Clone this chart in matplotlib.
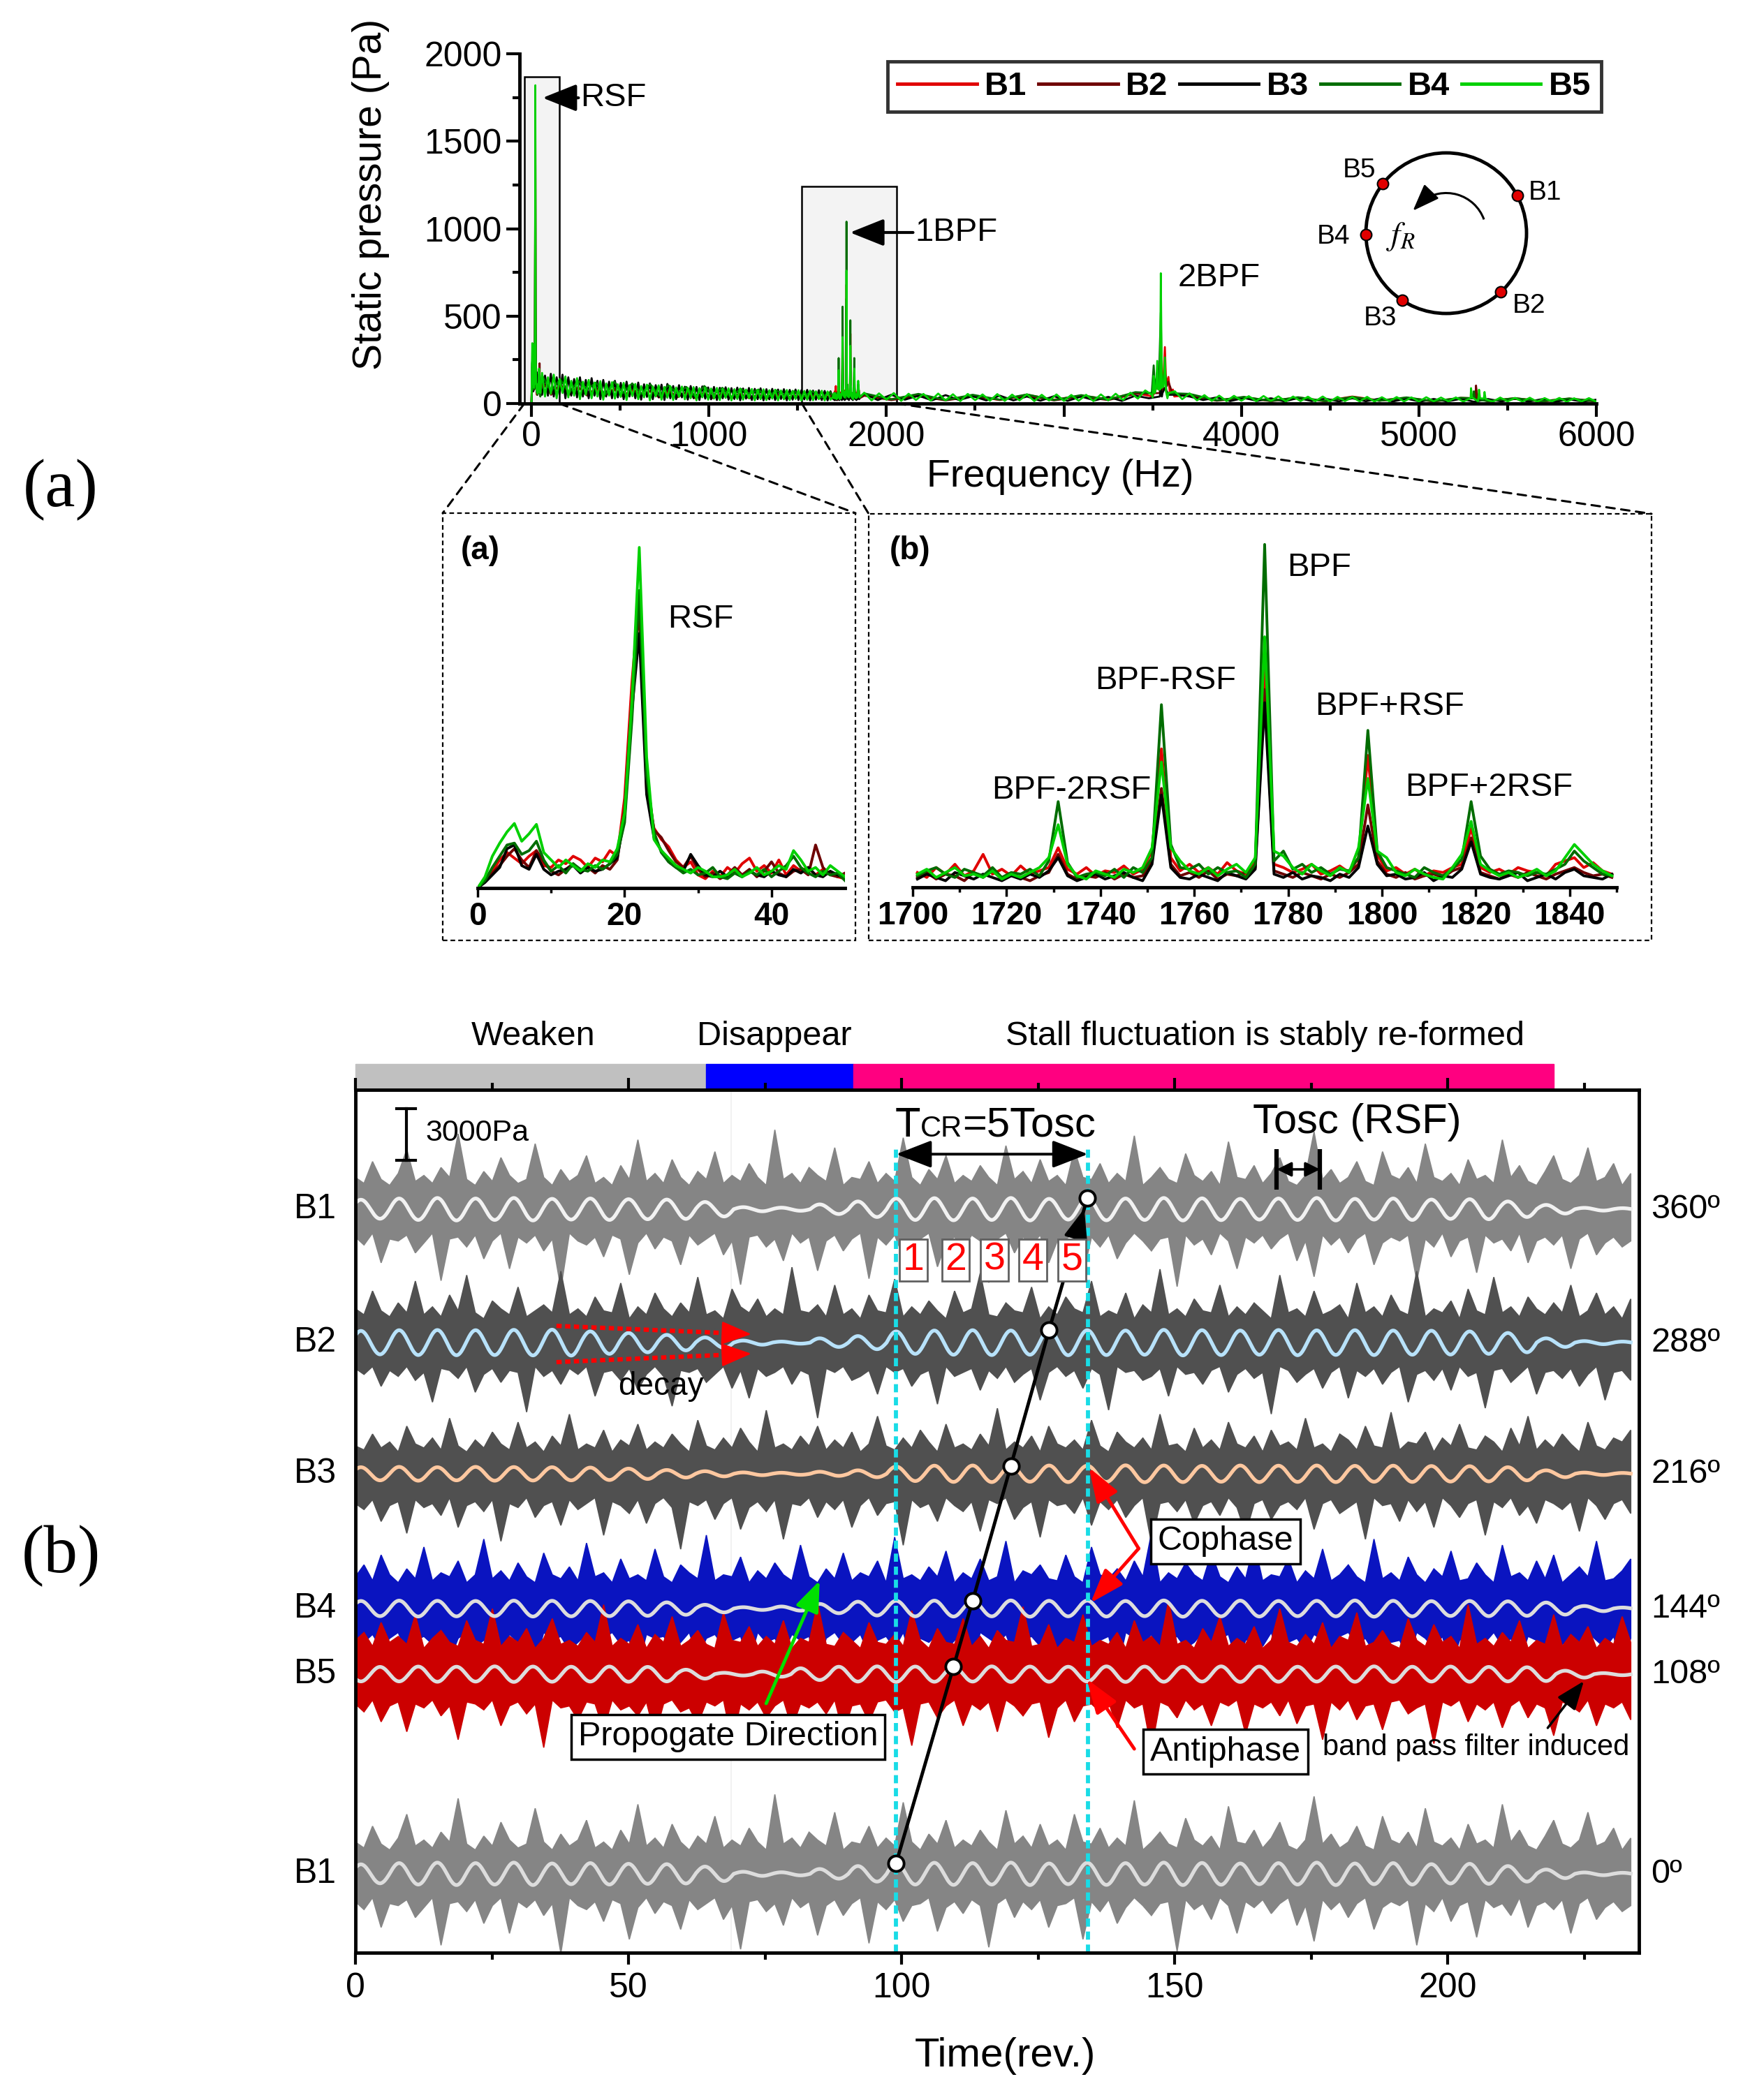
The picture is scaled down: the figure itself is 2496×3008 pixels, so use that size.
import numpy as np
import matplotlib
matplotlib.use('Agg')
import matplotlib.pyplot as plt
import matplotlib.transforms as mtrans
from matplotlib.patches import Rectangle, Circle, Arc, ConnectionPatch
from matplotlib.lines import Line2D

plt.rcParams['font.family'] = ['Liberation Sans', 'DejaVu Sans']
plt.rcParams['mathtext.fontset'] = 'stix'

# ======================= DATA =======================
SERIES = ['B1', 'B2', 'B3', 'B4', 'B5']

# --- inset (a): 0..50 Hz, 1 Hz step (Pa)
FA = np.arange(0, 51)
A_B1 = [0,50,90,150,190,160,130,170,200,120, 110,150,130,170,150,110,160,140,200,170,
        480,1100,1560,520,320,260,220,150,110,140, 70,50,90,60,110,80,130,160,90,120,
        80,150,70,120,90,110,70,100,80,60, 50]
A_B2 = [0,40,80,120,170,210,150,110,200,140, 90,70,100,130,90,110,80,120,100,150,
        420,1000,1500,600,310,270,200,140,110,170, 100,60,80,50,70,110,70,100,60,90,
        140,80,60,90,100,70,230,110,70,60, 80]
A_B3 = [0,30,70,110,210,230,120,100,180,100, 70,90,100,120,80,110,90,100,130,160,
        380,950,1360,500,270,200,140,110,90,180, 120,70,60,90,60,80,60,90,70,60,
        90,70,60,100,80,110,70,60,90,70, 50]
A_B4 = [0,40,110,170,230,240,180,200,250,150, 90,120,80,130,100,90,120,100,130,180,
        350,900,1590,600,300,190,140,110,80,100, 70,80,110,60,50,80,60,90,70,100,
        60,90,120,170,110,80,60,90,70,80, 40]
A_B5 = [0,60,170,240,300,345,250,290,340,190, 150,110,150,120,90,130,110,150,140,210,
        400,1000,1820,700,260,200,160,120,100,80, 110,90,60,60,70,100,60,80,110,70,
        90,120,100,200,150,90,110,70,120,90, 60]

# --- inset (b): 1701..1849 Hz, 2 Hz step (Pa)
FB = np.arange(1701, 1850, 2)
B_B1 = [45,30,60,40,70,35,50,100,40,55, 35,65,40,50,60,120,55,40,60,35,
        50,45,65,40,55,110,420,90,50,70, 45,60,40,75,50,40,80,680,70,60,
        45,55,70,40,50,65,45,90,400,100, 50,60,40,55,35,50,45,60,70,180,
        60,45,55,40,60,50,45,35,70,80, 90,60,75,50,40]
B_B2 = [30,45,25,40,35,20,45,30,50,25, 40,30,20,35,45,100,40,25,35,30,
        45,25,40,30,35,80,300,70,35,45, 30,50,25,40,35,45,60,600,50,40,
        30,45,35,25,40,30,45,70,250,80, 40,30,45,25,35,40,30,50,60,150,
        45,35,25,40,30,45,35,25,40,50, 60,45,35,40,30]
B_B3 = [25,40,30,20,45,35,25,40,30,20, 35,25,40,30,50,90,35,20,30,40,
        25,35,45,30,20,70,280,60,30,25, 40,30,20,45,35,25,55,560,40,30,
        45,25,35,30,20,40,30,60,186,70, 35,40,25,30,45,20,35,30,55,138,
        40,30,25,35,45,20,30,40,25,45, 55,35,30,25,40]
B_B4 = [35,50,60,40,30,55,45,35,60,30, 45,40,55,35,80,260,75,30,40,45,
        35,55,30,60,45,90,554,130,60,55, 70,40,60,45,50,30,70,1040,80,110,
        55,70,45,60,40,55,50,90,476,110, 60,50,40,30,60,45,35,55,85,260,
        95,55,40,50,45,35,45,40,55,70, 110,80,60,40,35]
B_B5 = [40,55,30,45,60,35,40,30,50,25, 40,30,45,60,90,190,70,35,25,50,
        40,30,55,45,60,120,380,120,80,50, 40,60,35,55,70,45,90,760,110,95,
        60,40,70,50,35,60,45,120,330,110, 90,45,35,55,40,30,25,60,100,200,
        70,50,35,45,30,40,55,35,50,90, 130,100,70,50,35]

# --- broadband floor 60..1685 Hz (Pa)
LOW_B1 = [120,60,100,50,90,55,80,45,85,40,75,50,70,35,65,45,60,30,55,40,55,30,50,35,45,30,50,30,45,35,40,30,45]
LOW_B2 = [130,50,110,60,95,45,90,50,80,40,85,45,70,40,75,35,65,45,60,30,60,40,55,30,50,35,55,30,45,35,50,30,40]
LOW_B3 = [50,160,45,170,40,150,55,165,30,150, 45,140,35,150,40,135,30,145,45,130,
          25,135,40,125,30,130,35,118,25,125, 40,112,30,120,22,110,38,115,25,105,
          35,108,20,112,30,100,25,105,35,96, 22,100,30,95,20,98,28,92,24,95,
          20,90,30,93,22,88,26,91,18,86, 28,89,20,84,25,87,18,82,24,84,
          20,80,26,82,18,78,22,80,20,76, 24,78,18,74,22,76,20,72,18,70]
LOW_B4 = [160,70,140,60,130,80,120,50,125,60,115,55,110,45,105,60,95,40,100,50,90,35,85,55,80,35,75,45,70,40,70,35,65]
LOW_B5 = [175,40,150,55,165,30,140,60,155,35, 130,45,145,25,125,50,135,30,120,40,
          128,22,115,45,122,28,110,38,118,20, 105,42,112,25,100,35,108,18,98,40,
          104,22,95,33,100,20,92,38,97,24, 90,30,94,18,88,35,91,22,86,28,
          89,20,84,32,87,18,82,26,85,22, 80,30,83,18,78,25,81,20,76,28,
          79,18,75,24,77,20,73,26,76,17, 72,22,74,19,70,25,73,18,69,22]

# --- broadband floor 1875..6000 Hz (Pa)
HIGH_B1 = [50,25,48,22,45,20,50,22,45,25,60,90,50,18,36,16,34,15,40,18,33,14,32,15,30,14,28,14]
HIGH_B2 = [45,20,42,18,40,22,44,18,40,20,55,80,45,16,32,14,30,13,35,16,30,12,28,13,26,12,25,12]
HIGH_B3 = [55,20,50,22,45,18,48,20,42,18, 45,18,40,16,42,15,40,18,38,15,
           45,30,60,50,40,20,35,14,32,15, 30,12,32,14,28,12,30,13,28,12,
           28,11,26,12,27,10,26,12,28,11, 25,10,24,11,22]
HIGH_B4 = [58,24,55,20,50,22,52,20,48,22,65,100,55,18,38,15,36,14,38,16,35,13,33,14,31,13,29,13]
HIGH_B5 = [62,18,58,22,60,15,56,20,55,16, 57,18,53,14,55,19,52,16,54,15,
           51,18,53,14,50,17,52,15,49,16, 50,14,52,18,56,20,62,28,75,35,
           80,30,70,25,58,18,48,15,45,14, 44,16,42,13,43,15,41,12,40,14,
           39,13,40,12,38,14,37,12,38,11, 36,13,37,12,35,11,36,13,34,12,
           35,11,34,12,33,10,34,12,32,11, 33,10,31,12,32,10,30,11,31,10]

# --- narrow peaks around 2BPF and 5300 Hz (Hz, Pa)
PK_F_B1 = [3500,3526,3546,3558,3569,3576,3589,3596,3614,3622,5318,5322,5330]
PK_V_B1 = [40,100,200,90,323,110,152,70,80,40,30,90,30]
PK_F_B2 = [3540,3546,3552,3569,3580,3589,3600,3610,5318,5322,5328]
PK_V_B2 = [60,150,70,180,100,125,92,60,30,103,30]
PK_F_B3 = [3540,3546,3552,3569,3590]
PK_V_B3 = [40,80,40,90,50]
PK_F_B4 = [3495,3506,3514,3526,3534,3546,3552,3569,3578,5306,5310,5316]
PK_V_B4 = [60,218,70,180,80,520,90,200,60,30,70,25]
PK_F_B5 = [3495,3506,3512,3520,3526,3532,3540,3546,3552,3562,3569,3575,3590,
           5290,5294,5300,5335,5339,5345,5366,5370,5376]
PK_V_B5 = [50,158,60,90,244,80,110,745,90,100,264,70,60,
           30,88,35,30,79,30,28,66,25]

SENSOR_ANGLES = [28, -47, -123, 181, 142]   # degrees, B1..B5 on the casing

# --- time signals: raw-signal envelope (x115 Pa above / below the mean)
NOISE_UNIT = 115.0
B1_UP = [16,13,24,15,12,18,30,14,17,13,21,16,38,15,12,19,14,26,17,13,
         15,33,16,12,20,14,17,27,13,16,12,22,15,35,14,18,13,25,16,12,
         19,15,29,13,17,14,23,16,12,40,15,18,13,21,17,14,31,12,16,15,
         24,13,18,14,36,16,12,20,15,27,13,17,14,22,16,12,32,15,19,13,
         25,14,17,12,30,16,15,23,13,18,14,37,12,16,21,15,13,28,17,14,
         19,12,34,16,15,22,13,18,26,14,12,17,39,15,20,13,16,24,14,12,
         29,17,15,21,13,33,16,14,18,12,25,15,17,13,35,16,22,14,12,19,
         27,15,13,17,31,14,16,23,12,18]
B1_LO = [14,18,12,27,15,16,13,22,17,12,36,15,14,19,13,25,16,12,30,14,
         17,13,21,15,40,12,16,18,14,24,13,15,33,17,12,20,14,16,28,13,
         18,15,12,23,16,38,14,13,19,15,26,12,17,14,31,16,13,21,15,12,
         35,14,18,13,24,16,15,12,29,17,14,20,13,16,37,15,12,22,14,18,
         13,27,16,15,12,33,14,19,13,25,17,12,16,21,15,14,39,13,18,15,
         23,12,16,30,14,17,13,20,15,12,26,16,34,13,18,14,22,15,12,28,
         17,14,16,13,36,15,19,12,24,16,14,32,13,17,15,21,12,27,16,14,
         18,13,30,15,12,23,17,14,19,16]
B2_UP = [17,14,26,16,13,20,15,31,14,18,13,24,16,34,15,12,21,17,14,28,
         13,16,19,15,36,14,17,13,23,16,15,30,12,18,14,25,17,13,20,15,
         33,14,16,12,27,18,15,22,13,17,14,38,16,15,19,13,29,14,17,12,
         24,16,15,32,13,18,14,21,16,12,26,15,17,35,14,13,20,16,15,28,
         12,18,14,23,17,15,31,13,16,14,25,12,19,15,37,14,17,13,22,16,
         15,29,13,18,14,20,16,12,34,15,17,13,26,14,16,19,12,30,15,18,
         13,24,16,14,36,13,17,15,21,12,27,16,14,33,15,18,13,23,17,14,
         20,15,29,13,16,25,14,18,12,22]
B2_LO = [13,16,12,22,14,17,12,19,15,30,13,14,18,12,25,16,13,20,14,15,
         35,12,17,14,21,13,16,12,27,15,14,19,13,24,16,12,17,32,14,15,
         13,20,16,12,23,14,28,13,17,15,12,21,14,16,38,13,15,12,19,17,
         14,26,12,15,13,22,16,14,31,12,17,15,13,24,14,18,12,20,16,13,
         29,15,12,17,14,23,13,16,34,12,15,14,19,17,13,27,12,16,15,21,
         14,12,25,16,13,18,15,36,12,14,20,16,13,23,15,12,28,14,17,13,
         21,15,12,30,16,14,19,13,24,12,17,15,33,14,13,20,16,12,26,15,
         14,18,13,22,16,12,29,15,14,19]
B3_UP = [14,12,20,13,16,11,24,15,13,18,12,28,14,11,17,13,21,15,12,26,
         13,16,11,19,14,30,12,15,13,22,11,17,14,25,12,16,13,20,15,11,
         27,14,12,18,13,23,16,11,32,13,15,12,19,14,24,12,17,13,21,11,
         15,29,14,12,18,13,22,16,11,25,13,15,12,20,14,33,12,16,13,19,
         11,24,15,13,17,12,27,14,11,21,16,13,18,12,30,14,15,11,23,13,
         17,12,26,15,13,19,11,22,14,16,12,28,13,15,11,20,17,12,24,14,
         13,31,12,16,15,21,11,18,14,25,13,12,19,16,11,23,14,29,12,17,
         13,20,15,11,26,14,12,18,16,22]
B3_LO = [15,18,13,24,16,14,30,13,17,15,21,12,27,16,14,19,13,34,15,17,
         12,22,16,14,26,13,18,15,12,31,14,16,20,13,25,15,12,17,38,14,
         16,13,23,15,12,28,17,14,19,13,33,15,16,12,22,14,18,13,27,16,
         12,21,15,14,36,13,17,15,24,12,16,19,14,29,13,15,12,23,17,14,
         32,13,16,15,20,12,26,14,18,13,22,16,12,35,15,14,19,13,25,16,
         14,21,12,17,30,15,13,23,16,14,18,12,28,15,13,20,17,14,33,12,
         16,15,24,13,19,14,27,12,16,22,15,13,31,14,17,12,21,16,25,13,
         15,18,14,29,12,16,23,15,13,20]
B4_UP = [16,22,14,27,17,13,20,15,31,14,18,16,24,13,17,35,15,19,14,23,
         16,13,28,17,15,21,14,33,16,18,13,25,15,17,14,30,16,13,22,18,
         15,37,14,17,16,26,13,19,15,23,17,14,32,16,13,20,15,28,14,18,
         16,24,13,36,15,17,14,21,16,29,13,18,15,25,14,16,34,13,19,17,
         22,15,14,27,16,13,31,17,15,20,14,24,16,38,13,18,15,23,17,14,
         28,16,13,21,15,33,14,17,16,25,13,19,15,30,14,17,22,16,13,35,
         15,18,14,26,17,13,20,16,29,14,15,23,17,13,32,16,18,14,24,15,
         27,13,17,21,16,34,14,15,19,25]
B4_LO = [14,17,13,20,15,12,23,16,14,18,13,26,15,12,19,16,14,22,13,17,
         15,28,12,16,14,21,17,13,24,15,12,18,16,30,13,15,14,20,17,12,
         25,15,13,19,16,14,27,12,17,15,22,13,16,14,32,15,12,18,17,13,
         23,16,14,20,12,26,15,17,13,21,16,14,29,12,15,18,13,24,16,14,
         19,12,27,15,17,13,22,16,14,31,12,15,18,13,25,16,14,20,17,12,
         23,15,13,28,16,14,19,12,26,17,15,21,13,16,34,14,12,18,15,22,
         13,17,16,25,12,15,20,14,29,16,13,23,17,12,19,15,27,14,16,21,
         13,18,15,24,12,16,20,14,30,15]
B5_UP = [17,21,14,26,16,19,15,30,13,18,22,16,14,27,17,15,33,14,19,16,
         23,13,18,28,15,17,14,21,16,35,14,18,15,25,13,20,16,29,14,17,
         22,15,13,31,17,16,24,14,19,15,27,13,18,16,36,15,14,21,17,13,
         26,16,15,20,14,32,17,13,23,16,15,28,14,19,13,22,17,16,34,14,
         15,25,13,18,16,30,14,17,15,21,13,27,16,19,14,37,15,17,13,23,
         16,29,14,18,15,24,13,17,33,16,14,20,15,26,13,19,17,31,14,16,
         22,15,13,28,17,14,25,16,19,13,35,15,18,14,21,16,27,13,17,15,
         30,14,20,16,24,13,18,15,29,16]
B5_LO = [15,19,13,24,16,14,29,15,17,13,21,16,33,14,15,18,13,26,16,14,
         20,15,37,13,17,16,23,14,15,28,13,18,16,21,14,31,15,13,19,17,
         25,14,16,13,34,15,18,14,22,16,13,27,15,17,14,20,13,30,16,15,
         24,14,13,19,17,36,15,14,22,16,13,26,15,18,14,29,13,16,21,15,
         14,32,17,13,24,16,15,19,14,27,13,17,15,38,14,16,22,13,18,15,
         26,14,16,13,30,15,17,14,21,13,25,16,15,33,14,18,13,23,16,15,
         28,14,13,20,17,15,35,14,16,13,24,15,18,14,27,16,13,22,15,17,
         31,14,16,19,13,26,15,17,14,23]

# --- band-pass (RSF) filtered signal: amplitude of every oscillation cycle (Pa)
TOSC = 7.0                      # rev
FILT_T0 = [1.0, 1.0, 1.0, 1.0, 4.5]   # rev of a crest, B1..B5
AMP_B1 = [550,620,650,620,650,600,620,580,560,420,120,90,280,450,620,640,620,650,600,640,620,650,630,600,620,650,600,620,560,580,450,250,80,60]
AMP_B2 = [680,720,730,720,740,750,650,560,450,300,120,60,250,380,650,700,720,700,730,720,700,740,720,700,730,710,720,700,690,650,560,250,90,60]
AMP_B3 = [380,400,380,400,390,380,360,300,220,150,80,60,120,200,420,470,480,460,480,470,490,480,460,480,470,480,460,470,450,440,380,200,70,50]
AMP_B4 = [440,460,450,440,460,450,440,420,360,220,80,120,270,400,450,460,450,470,450,460,440,470,450,460,440,450,470,450,430,440,420,350,150,60]
AMP_B5 = [420,440,430,450,440,430,440,420,260,80,150,340,430,450,440,430,450,440,430,450,440,430,450,440,430,440,450,430,440,420,400,200,60,50]

CREST_T = [99, 109.5, 113, 120, 127, 134]    # crests joined by the propagation line
TCR = (99.0, 134.1)
TOSC_MARK = (168.7, 176.6)

STAGE_EDGES = [0, 64.2, 91.2, 219.4]
STAGE_LABELS = ['Weaken', 'Disappear', 'Stall fluctuation is stably re-formed']
STAGE_LABEL_X = [32.5, 76.7, 166.5]

TRACE_LABELS = ['B1', 'B2', 'B3', 'B4', 'B5', 'B1']
ANGLE_LABELS = ['360º', '288º', '216º', '144º', '108º', '0º']

# ======================= FIGURE =======================
W, H = 2496, 3008
fig = plt.figure(figsize=(W / 100, H / 100), dpi=100)


def box(x0, y0, x1, y1):
    return [x0 / W, 1 - y1 / H, (x1 - x0) / W, (y1 - y0) / H]


def fp(x, y):
    return (x / W, 1 - y / H)


SPEC_COLORS = ['#E00000', '#6E0000', '#000000', '#006C00', '#00D000']
A_LIST = [A_B1, A_B2, A_B3, A_B4, A_B5]
B_LIST = [B_B1, B_B2, B_B3, B_B4, B_B5]
LOW_LIST = [LOW_B1, LOW_B2, LOW_B3, LOW_B4, LOW_B5]
HIGH_LIST = [HIGH_B1, HIGH_B2, HIGH_B3, HIGH_B4, HIGH_B5]
PKF_LIST = [PK_F_B1, PK_F_B2, PK_F_B3, PK_F_B4, PK_F_B5]
PKV_LIST = [PK_V_B1, PK_V_B2, PK_V_B3, PK_V_B4, PK_V_B5]

# ---------------- top spectrum ----------------
ax = fig.add_axes(box(744, 77, 2286, 578))
for i in range(5):
    f = np.concatenate([FA, np.linspace(60, 1685, len(LOW_LIST[i])), FB,
                        np.linspace(1875, 6000, len(HIGH_LIST[i])), PKF_LIST[i]])
    v = np.concatenate([A_LIST[i], LOW_LIST[i], B_LIST[i], HIGH_LIST[i], PKV_LIST[i]])
    o = np.argsort(f, kind='stable')
    ax.plot(f[o], v[o], color=SPEC_COLORS[i], lw=2.0, zorder=3 + i)
ax.add_patch(Rectangle((-40, 0), 197, 1870, fc='#F3F3F3', ec='k', lw=1.8, zorder=1))
ax.add_patch(Rectangle((1524, 0), 535, 1240, fc='#F3F3F3', ec='k', lw=1.8, zorder=1))
ax.set_xlim(-67, 6000)
ax.set_ylim(0, 2000)
for s in ['top', 'right']:
    ax.spines[s].set_visible(False)
for s in ['left', 'bottom']:
    ax.spines[s].set_linewidth(3.5)
    ax.spines[s].set_zorder(12)
ax.set_xticks([0, 1000, 2000, 3000, 4000, 5000, 6000])
ax.set_xticklabels(['0', '1000', '2000', '', '4000', '5000', '6000'])
ax.set_xticks(np.arange(500, 6000, 1000), minor=True)
ax.set_yticks([0, 500, 1000, 1500, 2000])
ax.set_yticks([250, 750, 1250, 1750], minor=True)
ax.tick_params(which='major', length=14, width=3, labelsize=36, direction='out', pad=4)
ax.tick_params(which='minor', length=7, width=3, direction='out')

arrow_kw = dict(arrowstyle='-|>,head_length=0.75,head_width=0.3', color='k', lw=3,
                mutation_scale=40, shrinkA=0, shrinkB=0, relpos=(0, 0.5))
ax.annotate('RSF', xy=(63, 1748), xytext=(276, 1748), fontsize=34, va='center', ha='left',
            arrowprops=arrow_kw, zorder=10)
ax.annotate('1BPF', xy=(1795, 978), xytext=(2161, 978), fontsize=34, va='center', ha='left',
            arrowprops=arrow_kw, zorder=10)
ax.text(3642, 718, '2BPF', fontsize=34, va='center', ha='left')

handles = [Line2D([], [], color=c, lw=3.5) for c in SPEC_COLORS]
leg = ax.legend(handles, SERIES, ncol=5, loc='upper left', bbox_to_anchor=fp(1271, 88),
                bbox_transform=fig.transFigure, frameon=True, fancybox=False, edgecolor='k',
                borderpad=0.3, handlelength=2.4, handletextpad=0.25, columnspacing=0.35,
                borderaxespad=0, prop={'weight': 'bold', 'size': 34})
leg.get_frame().set_linewidth(3.5)

fig.text(*fp(531, 278), 'Static pressure (Pa)', rotation=90, fontsize=41, ha='center', va='center')
fig.text(*fp(1518, 683), 'Frequency (Hz)', fontsize=40, ha='center', va='center')

# circle sketch of sensor positions
axc = fig.add_axes(box(2071 - 170, 334 - 170, 2071 + 170, 334 + 170))
axc.set_xlim(-1.478, 1.478)
axc.set_ylim(-1.478, 1.478)
axc.axis('off')
axc.add_patch(Circle((0, 0), 1.0, fill=False, ec='k', lw=3.5))
ang = np.deg2rad(SENSOR_ANGLES)
axc.scatter(np.cos(ang), np.sin(ang), s=130, c='#E00000', edgecolors='k', linewidths=1.5, zorder=5)
lab_pos = {'B1': (1.23, 0.50), 'B2': (1.03, -0.90), 'B3': (-0.82, -1.06), 'B4': (-1.40, -0.04), 'B5': (-1.08, 0.78)}
for n in SERIES:
    axc.text(*lab_pos[n], n, fontsize=28, ha='center', va='center')
axc.add_patch(Arc((0, 0), 1.0, 1.0, theta1=20, theta2=128, color='k', lw=2.2))
axc.annotate('', xy=(0.5 * np.cos(np.deg2rad(146)), 0.5 * np.sin(np.deg2rad(146))),
             xytext=(0.5 * np.cos(np.deg2rad(126)), 0.5 * np.sin(np.deg2rad(126))),
             arrowprops=dict(arrowstyle='-|>,head_length=0.8,head_width=0.3', color='k', lw=2,
                             mutation_scale=30, shrinkA=0, shrinkB=0))
axc.text(-0.57, -0.04, '$f_R$', fontsize=34, ha='center', va='center')

# ---------------- insets ----------------
axa = fig.add_axes(box(684, 768, 1210, 1272))
for i in range(5):
    axa.plot(FA, A_LIST[i], color=SPEC_COLORS[i], lw=2.8, zorder=3 + i)
axa.set_xlim(0, 50)
axa.set_ylim(0, 1880)
axb = fig.add_axes(box(1307, 760, 2315, 1271))
for i in range(5):
    axb.plot(FB, B_LIST[i], color=SPEC_COLORS[i], lw=2.8, zorder=3 + i)
axb.set_xlim(1700, 1850)
axb.set_ylim(0, 1082)
for a in (axa, axb):
    for s in ['top', 'right', 'left']:
        a.spines[s].set_visible(False)
    a.spines['bottom'].set_linewidth(3.5)
    a.spines['bottom'].set_zorder(12)
    a.set_yticks([])
    a.patch.set_alpha(0)
    a.tick_params(which='major', length=9, width=2.5, labelsize=33, direction='out', pad=5)
    a.tick_params(which='minor', length=5, width=2.5, direction='out')
axa.set_xticks([0, 20, 40])
axa.set_xticks([10, 30], minor=True)
axb.set_xticks(np.arange(1700, 1841, 20))
axb.set_xticks(np.arange(1710, 1851, 20), minor=True)
for a in (axa, axb):
    for t in a.get_xticklabels():
        t.set_fontweight('bold')
axa.text(25.9, 1436, 'RSF', fontsize=34, ha='left', va='center')
for txt, xx, yy in [('BPF', 1779.8, 969), ('BPF-RSF', 1738.8, 627), ('BPF+RSF', 1785.7, 549),
                    ('BPF-2RSF', 1716.9, 295), ('BPF+2RSF', 1805.0, 303)]:
    axb.text(xx, yy, txt, fontsize=34, ha='left', va='center')
fig.text(*fp(688, 789), '(a)', fontsize=33, fontweight='bold', ha='center', va='center')
fig.text(*fp(1303, 789), '(b)', fontsize=33, fontweight='bold', ha='center', va='center')

dash = (0, (3, 2))
fig.add_artist(Rectangle(fp(634, 1347), 591 / W, 612 / H, transform=fig.transFigure,
                         fill=False, ls=dash, lw=1.6, ec='k'))
fig.add_artist(Rectangle(fp(1244, 1347), 1121 / W, 611 / H, transform=fig.transFigure,
                         fill=False, ls=dash, lw=1.6, ec='k'))
for xa, pb in [(-40, fp(634, 735)), (157, fp(1225, 735)), (1524, fp(1244, 736)), (2059, fp(2365, 736))]:
    fig.add_artist(ConnectionPatch(xyA=(xa, 0), coordsA=ax.transData, xyB=pb,
                                   coordsB=fig.transFigure, ls=(0, (4, 3)), lw=2.2, color='k'))

fig.text(*fp(87, 702), '(a)', fontsize=70, family='Liberation Serif', ha='center', va='center')
fig.text(*fp(87, 2229), '(b)', fontsize=70, family='Liberation Serif', ha='center', va='center')

# ---------------- time signals ----------------
axt = fig.add_axes(box(509, 1561, 2347, 2797))
axt.set_xlim(0, 235)
axt.set_ylim(0, 50000)
BASE = [43080, 35350, 27750, 19940, 16140, 4570]
NOISE_UP = [B1_UP, B2_UP, B3_UP, B4_UP, B5_UP, B1_UP]
NOISE_LO = [B1_LO, B2_LO, B3_LO, B4_LO, B5_LO, B1_LO]
NOISE_COL = ['#858585', '#505050', '#505050', '#0A14C0', '#CC0000', '#858585']
FILT_COL = ['#F2F2F2', '#B8E2FA', '#FFC8A0', '#DDDDDD', '#DDDDDD', '#DDDDDD']
AMPS = [AMP_B1, AMP_B2, AMP_B3, AMP_B4, AMP_B5, AMP_B1]
T0S = FILT_T0 + [FILT_T0[0]]
T_END = 233.5

axt.axvline(68.8, color='#F2F2F2', lw=1.5, zorder=0.5)
for j in range(6):
    up = np.asarray(NOISE_UP[j], dtype=float) * NOISE_UNIT
    lo = np.asarray(NOISE_LO[j], dtype=float) * NOISE_UNIT
    xu = np.linspace(0, T_END, len(up))
    xl = np.linspace(0, T_END, len(lo))
    X = np.concatenate([xu, xl[::-1]])
    Y = np.concatenate([BASE[j] + up, BASE[j] - lo[::-1]])
    axt.fill(X, Y, fc=NOISE_COL[j], ec=NOISE_COL[j], lw=1.2, joinstyle='miter', zorder=2 + 0.1 * j)


def filtered(tt, j):
    amps = np.array(AMPS[j], dtype=float)
    k = np.clip(np.floor((tt - T0S[j] + TOSC / 4) / TOSC).astype(int), 0, len(amps) - 1)
    return BASE[j] + amps[k] * np.cos(2 * np.pi * (tt - T0S[j]) / TOSC)


tt = np.linspace(0, T_END, 4000)
for j in range(6):
    axt.plot(tt, filtered(tt, j), color=FILT_COL[j], lw=3.8, zorder=4)

# stage bar above the frame
bt = mtrans.blended_transform_factory(axt.transData, axt.transAxes)
for k, c in enumerate(['#C0C0C0', '#0000FF', '#FF0080']):
    axt.add_patch(Rectangle((STAGE_EDGES[k], 1.0), STAGE_EDGES[k + 1] - STAGE_EDGES[k], 0.03,
                            transform=bt, color=c, clip_on=False, zorder=1))
    axt.text(STAGE_LABEL_X[k], 1.062, STAGE_LABELS[k], transform=bt, fontsize=35,
             ha='center', va='center')

# side labels
for j in range(6):
    axt.text(-7.4, BASE[j], TRACE_LABELS[j], fontsize=36, ha='center', va='center')
    axt.text(237.2, BASE[j], ANGLE_LABELS[j], fontsize=35, ha='left', va='center')

# scale bar
axt.plot([9.3, 9.3], [45900, 48900], color='k', lw=3, zorder=9)
axt.plot([7.6, 11.0], [45900, 45900], color='k', lw=3, zorder=9)
axt.plot([7.6, 11.0], [48900, 48900], color='k', lw=3, zorder=9)
axt.text(12.8, 47500, '3000Pa', fontsize=31, ha='left', va='center')

# TCR / Tosc markers
axt.vlines(TCR, 0, 46700, colors='#19DCE6', lw=4.2, linestyles=[(0, (2, 1.2))], zorder=7)
axt.annotate('', xy=(TCR[1], 46270), xytext=(TCR[0], 46270),
             arrowprops=dict(arrowstyle='<|-|>,head_length=0.9,head_width=0.35', color='k', lw=2.8,
                             mutation_scale=35, shrinkA=0, shrinkB=0), zorder=9)
r = fig.canvas.get_renderer()
xd, yd = axt.transData.transform((98.8, 47300))
for s, size in [('T', 43), ('CR', 30), ('=5Tosc', 43)]:
    tx = axt.text(xd, yd, s, fontsize=size, transform=mtrans.IdentityTransform(), va='baseline', ha='left')
    xd += tx.get_window_extent(renderer=r).width
axt.text(164.3, 48100, 'Tosc (RSF)', fontsize=43, ha='left', va='center')
axt.vlines(TOSC_MARK, 44220, 46560, colors='k', lw=4.5, zorder=9)
axt.annotate('', xy=(TOSC_MARK[1], 45390), xytext=(TOSC_MARK[0], 45390),
             arrowprops=dict(arrowstyle='<|-|>,head_length=0.5,head_width=0.25', color='k', lw=2.5,
                             mutation_scale=25, shrinkA=0, shrinkB=0), zorder=9)

# propagation line through the crests
order = [5, 4, 3, 2, 1, 0]
cy = [filtered(np.array([CREST_T[n]]), order[n])[0] for n in range(6)]
axt.plot(CREST_T, cy, color='k', lw=3.5, zorder=8)
p0 = np.array([CREST_T[4], cy[4]])
p1 = np.array([CREST_T[5], cy[5]])
axt.annotate('', xy=tuple(p0 + 0.92 * (p1 - p0)), xytext=tuple(p0 + 0.6 * (p1 - p0)),
             arrowprops=dict(arrowstyle='-|>,head_length=0.9,head_width=0.35', color='k', lw=3,
                             mutation_scale=30, shrinkA=0, shrinkB=0), zorder=8)
axt.plot(CREST_T, cy, 'o', ms=16, mfc='white', mec='k', mew=2.8, zorder=10)

for n, xx in enumerate([102.2, 109.9, 117.0, 124.0, 131.2]):
    axt.text(xx, 40130, str(n + 1), fontsize=40, color='red', ha='center', va='center', zorder=11,
             bbox=dict(boxstyle='square,pad=0.08', fc='white', ec='#606060', lw=2))

# decay arrows
for (x0, y0, x1, y1) in [(36.8, 36320, 72.5, 35840), (36.8, 34220, 72.5, 34710)]:
    axt.plot([x0, x1 - 2.5], [y0, y1 + (y0 - y1) * 2.5 / (x1 - x0)], color='red', lw=4.5,
             ls=(0, (1.2, 0.8)), zorder=9)
    axt.annotate('', xy=(x1, y1), xytext=(x1 - 3.5, y1 + (y0 - y1) * 3.5 / (x1 - x0)),
                 arrowprops=dict(arrowstyle='-|>,head_length=0.9,head_width=0.35', color='red', lw=2,
                                 mutation_scale=30, shrinkA=0, shrinkB=0), zorder=9)
axt.text(55.9, 32800, 'decay', fontsize=33, ha='center', va='center', zorder=9)

axt.annotate('', xy=(85.0, 21560), xytext=(75.2, 14440),
             arrowprops=dict(arrowstyle='-|>,head_length=0.9,head_width=0.35', color='#00E000', lw=3.5,
                             mutation_scale=30, shrinkA=0, shrinkB=0), zorder=9)
boxkw = dict(boxstyle='square,pad=0.2', fc='white', ec='k', lw=2.5)
axt.text(68.2, 12500, 'Propogate Direction', fontsize=35, ha='center', va='center', bbox=boxkw, zorder=11)
axt.text(159.3, 23830, 'Cophase', fontsize=35, ha='center', va='center', bbox=boxkw, zorder=11)
axt.text(159.3, 11650, 'Antiphase', fontsize=35, ha='center', va='center', bbox=boxkw, zorder=11)
red_kw = dict(arrowstyle='-|>,head_length=1.0,head_width=0.35', color='red', lw=3.5,
              mutation_scale=30, shrinkA=0, shrinkB=0)
axt.annotate('', xy=(134.3, 28110), xytext=(143.4, 23420), arrowprops=red_kw, zorder=10)
axt.annotate('', xy=(134.6, 20270), xytext=(143.4, 23420), arrowprops=red_kw, zorder=10)
axt.annotate('', xy=(133.9, 15860), xytext=(142.6, 11810), arrowprops=red_kw, zorder=10)
axt.text(205.2, 11890, 'band pass filter induced', fontsize=30, ha='center', va='center', zorder=11)
axt.annotate('', xy=(224.9, 15735), xytext=(218.3, 13025),
             arrowprops=dict(arrowstyle='-|>,head_length=0.9,head_width=0.35', color='k', lw=2.5,
                             mutation_scale=28, shrinkA=0, shrinkB=0), zorder=10)

for s in axt.spines.values():
    s.set_linewidth(3.5)
    s.set_zorder(12)
axt.set_yticks([])
axt.set_xticks([0, 50, 100, 150, 200])
axt.set_xticks(np.arange(25, 235, 50), minor=True)
axt.tick_params(axis='x', which='major', length=12, width=3, labelsize=36, direction='out', pad=8)
axt.tick_params(axis='x', which='minor', length=7, width=3, direction='out')
axt.tick_params(axis='x', which='both', top=True)
axt.xaxis.set_tick_params(which='both', labeltop=False)
fig.text(*fp(1439, 2945), 'Time(rev.)', fontsize=42, ha='center', va='center')

fig.savefig('out.png', dpi=100)
